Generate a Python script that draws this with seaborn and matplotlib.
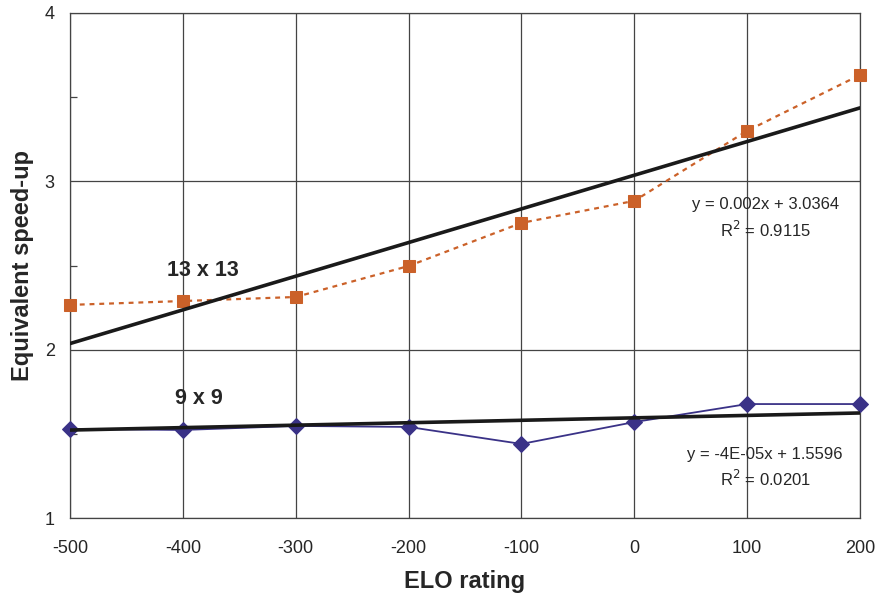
## arrays and tables
import numpy as np
import pandas as pd
## visualisation
import matplotlib
matplotlib.use('Agg')
from matplotlib import pyplot as plt
from matplotlib.ticker import MultipleLocator
import seaborn as sns

## data
elo = [-500, -400, -300, -200, -100, 0, 100, 200]
speedup_13 = [2.266, 2.289, 2.313, 2.497, 2.753, 2.884, 3.300, 3.632]
speedup_9 = [1.529, 1.523, 1.547, 1.541, 1.440, 1.570, 1.677, 1.677]
## trend lines as drawn (slope, intercept)
trend_13 = [0.002, 3.0364]
trend_9 = [0.000145, 1.595]
eq_13 = ['y = 0.002x + 3.0364', 'R$^2$ = 0.9115']
eq_9 = ['y = -4E-05x + 1.5596', 'R$^2$ = 0.0201']

sns.set_style('white')
plt.rcParams['font.family'] = ['Liberation Sans', 'DejaVu Sans']
plt.rcParams['axes.unicode_minus'] = False

d = pd.DataFrame({'elo': elo, '13 x 13': speedup_13, '9 x 9': speedup_9})
x_fit = np.array([elo[0], elo[-1]])
fit = pd.DataFrame({
    'elo': x_fit,
    't13': trend_13[0]*x_fit + trend_13[1],
    't9': trend_9[0]*x_fit + trend_9[1],
})

fig = plt.figure(1, figsize=(8.75, 5.99), dpi=100)
ax = fig.add_axes([0.08, 0.1352, 0.9029, 0.8431])

orange = '#CB6129'
navy = '#3A3287'

sns.lineplot(data=d, x='elo', y='13 x 13', ax=ax, color=orange, lw=1.6,
             linestyle=(0, (2.2, 2.2)), marker='s', markersize=8.5,
             markeredgecolor=orange, clip_on=False, zorder=4)
sns.lineplot(data=d, x='elo', y='9 x 9', ax=ax, color=navy, lw=1.3,
             marker='D', markersize=8.5, markeredgecolor=navy,
             clip_on=False, zorder=4)
sns.lineplot(data=fit, x='elo', y='t13', ax=ax, color='#1a1a1a', lw=2.6, zorder=5)
sns.lineplot(data=fit, x='elo', y='t9', ax=ax, color='#1a1a1a', lw=2.6, zorder=5)

ax.set_xlim(-500, 200)
ax.set_ylim(1, 4)
ax.xaxis.set_major_locator(MultipleLocator(100))
ax.yaxis.set_major_locator(MultipleLocator(1))
ax.yaxis.set_minor_locator(MultipleLocator(0.5))
ax.grid(True, which='major', color='#444444', lw=0.9)
ax.set_axisbelow(True)
for s in ax.spines.values():
    s.set_color('#444444')
    s.set_linewidth(0.9)
ax.tick_params(axis='x', which='major', length=0, pad=16, labelsize=13)
ax.tick_params(axis='y', which='major', length=0, pad=11, labelsize=13)
ax.tick_params(axis='y', which='minor', direction='in', length=5,
               width=0.9, color='#444444', left=True)

ax.set_xlabel('ELO rating', fontsize=17, fontweight='bold', labelpad=9)
ax.set_ylabel('Equivalent speed-up', fontsize=17, fontweight='bold', labelpad=8)

ax.text(-382, 2.47, '13 x 13', fontsize=15.5, fontweight='bold',
        ha='center', va='center')
ax.text(-386, 1.71, '9 x 9', fontsize=15.5, fontweight='bold',
        ha='center', va='center')
ax.text(116, 2.86, eq_13[0], fontsize=12, ha='center', va='center')
ax.text(116, 2.71, eq_13[1], fontsize=12, ha='center', va='center')
ax.text(116, 1.38, eq_9[0], fontsize=12, ha='center', va='center')
ax.text(116, 1.23, eq_9[1], fontsize=12, ha='center', va='center')

fig.savefig('out.png', dpi=100)
